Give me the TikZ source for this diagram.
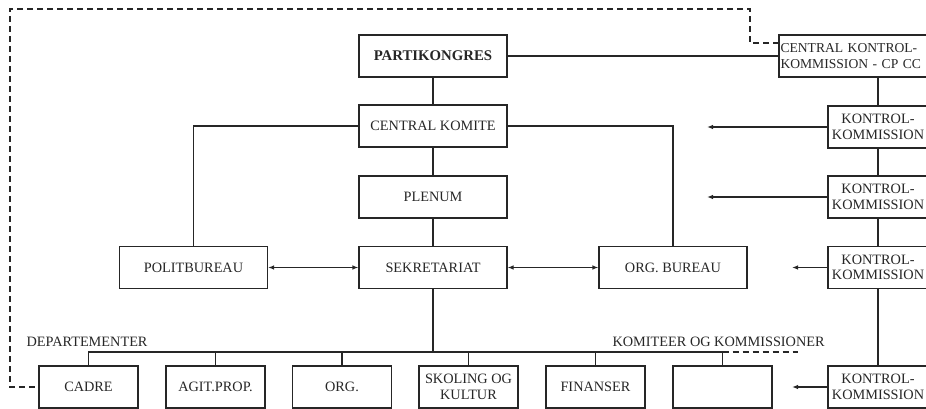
\documentclass[tikz,border=0pt]{standalone}
\usepackage{fontspec}
\setmainfont{Liberation Serif}
\usetikzlibrary{arrows.meta}
\begin{document}
\begin{tikzpicture}[x=1pt,y=-1pt,
  line width=1.1pt,
  color=black!85,
  txt/.style={font=\fontsize{14.3}{15.5}\selectfont},
  box/.style={draw, txt, minimum width=148pt, minimum height=42pt, inner sep=0pt, align=center},
  kk/.style={box, minimum width=100pt},
  dep/.style={box, minimum width=99pt},
  lbl/.style={txt, inner sep=0pt, anchor=west},
  arr/.style={-{Latex[length=6pt,width=4.5pt]}},
  dbl/.style={{Latex[length=6pt,width=4.5pt]}-{Latex[length=6pt,width=4.5pt]}},
  dsh/.style={dash pattern=on 6pt off 4pt}
]
\useasboundingbox (0,0) rectangle (926,409);
\clip (0,0) rectangle (926,409);

% central column
\node[box, font=\fontsize{14.8}{16}\selectfont\bfseries] (pk) at (433,56) {PARTIKONGRES};
\node[box] (ck) at (433,126) {CENTRAL KOMITE};
\node[box] (pl) at (433,197) {PLENUM};
\node[box] (sek) at (433,267.5) {SEKRETARIAT};
\node[box] (pb) at (193.5,267.5) {POLITBUREAU};
\node[box] (ob) at (673,267.5) {ORG. BUREAU};

% control commission column
\node[draw, font=\fontsize{13.6}{15.5}\selectfont, minimum height=42pt, inner xsep=1.5pt, inner ysep=0pt, text width=157pt, align=left] (ckk) at (859,56) {CENTRAL KONTROL-\\KOMMISSION - CP CC};
\node[kk] (kk1) at (878,127) {KONTROL-\\KOMMISSION};
\node[kk] (kk2) at (878,197) {KONTROL-\\KOMMISSION};
\node[kk] (kk3) at (878,267.5) {KONTROL-\\KOMMISSION};
\node[kk] (kk4) at (878,387) {KONTROL-\\KOMMISSION};

% departments
\node[dep] (d1) at (88.5,387) {CADRE};
\node[dep] (d2) at (215.5,387) {AGIT.PROP.};
\node[dep] (d3) at (342,387) {ORG.};
\node[dep] (d4) at (468.5,387) {SKOLING OG\\KULTUR};
\node[dep] (d5) at (595.5,387) {FINANSER};
\node[dep] (d6) at (722.5,387) {};

\node[lbl] (deplbl) at (26,341.5) {DEPARTEMENTER};
\node[lbl] (komlbl) at (612,341.5) {KOMITEER OG KOMMISSIONER};

% coordinates
\coordinate (bus) at (433,352);
\coordinate (busend) at (798,352);
\coordinate (t1) at (707,127);
\coordinate (t2) at (707,197);
\coordinate (t3) at (792,267.5);
\coordinate (t4) at (792,387);
\coordinate (ckkd) at (779,43);
\coordinate (k1) at (750,9);
\coordinate (k2) at (10,9);
\coordinate (k3) at (10,387);

% connectors
\draw (pk) -- (ck);
\draw (ck) -- (pl);
\draw (pl) -- (sek);
\draw (ck.west) -| (pb.north);
\draw (ck.east) -| (ob.north);
\draw[dbl] (pb) -- (sek);
\draw[dbl] (sek) -- (ob);
\draw (pk.east) -- (ckk.west);

\draw (kk1.north) -- (kk1.north |- ckk.south);
\draw (kk1) -- (kk2);
\draw (kk2) -- (kk3);
\draw (kk3) -- (kk4);
\draw[arr] (kk1) -- (t1);
\draw[arr] (kk2) -- (t2);
\draw[arr] (kk3) -- (t3);
\draw[arr] (kk4) -- (t4);

\draw (sek) -- (bus);
\draw (d1.north) -- (d1.north |- bus) -- (d6.north |- bus) -- (d6.north);
\foreach \d in {d2,d3,d4,d5} \draw (\d.north) -- (\d.north |- bus);
\draw[dsh] (d6.north |- bus) -- (busend);

\draw[dsh] (ckkd) -| (k1) -- (k2) -- (k3) -- (d1.west);
\end{tikzpicture}
\end{document}
